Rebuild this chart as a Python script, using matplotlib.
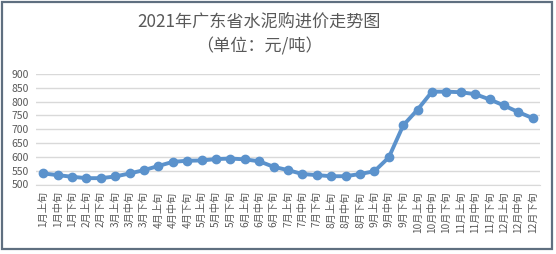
import matplotlib
matplotlib.use("Agg")
import matplotlib.pyplot as plt
from matplotlib.patches import Rectangle

plt.rcParams['font.family'] = ['Noto Sans CJK SC', 'DejaVu Sans']

title = "2021年广东省水泥购进价走势图"
subtitle = "（单位：元/吨）"

periods = ["1月上旬", "1月中旬", "1月下旬", "2月上旬", "2月下旬",
           "3月上旬", "3月中旬", "3月下旬", "4月上旬", "4月中旬", "4月下旬",
           "5月上旬", "5月中旬", "5月下旬", "6月上旬", "6月中旬", "6月下旬",
           "7月上旬", "7月中旬", "7月下旬", "8月上旬", "8月中旬", "8月下旬",
           "9月上旬", "9月中旬", "9月下旬", "10月上旬", "10月中旬", "10月下旬",
           "11月上旬", "11月中旬", "11月下旬", "12月上旬", "12月中旬", "12月下旬"]

prices = [540, 534, 528, 523, 523, 529, 540, 552, 567, 582, 586, 587,
          592, 594, 591, 584, 564, 552, 538, 534, 530, 530, 538, 548,
          598, 714, 771, 836, 836, 834, 827, 808, 786, 762, 740]

yticks = [500, 550, 600, 650, 700, 750, 800, 850, 900]

W, H = 556, 254
fig = plt.figure(figsize=(W / 100, H / 100), dpi=100)
fig.patch.set_facecolor("white")

# outer frame
fig.patches.append(Rectangle((1.5 / W, 1 - 248.5 / H), (552 - 1.5) / W, (248.5 - 1.5) / H,
                             transform=fig.transFigure, fill=False,
                             edgecolor="#5f6f80", linewidth=1.6))

left, right = 36 / W, 540 / W
bottom, top = 1 - 184.5 / H, 1 - 74 / H
ax = fig.add_axes([left, bottom, right - left, top - bottom])

x = list(range(len(periods)))
ax.plot(x, prices, color="#5B92CC", linewidth=2.8, marker="o",
        markersize=6, markerfacecolor="#5B92CC", markeredgecolor="#5B92CC",
        zorder=3, clip_on=False)

ax.set_xlim(-0.5, len(periods) - 0.5)
ax.set_ylim(500, 900)
ax.set_yticks(yticks)
ax.set_yticklabels([str(v) for v in yticks])
ax.yaxis.grid(True, color="#d9d9d9", linewidth=1.0)
ax.set_axisbelow(True)
for s in ["top", "right", "left"]:
    ax.spines[s].set_visible(False)
ax.spines["bottom"].set_color("#d9d9d9")
ax.tick_params(axis="y", length=0, labelsize=7.5, colors="#595959", pad=5)
ax.tick_params(axis="x", length=0, labelsize=7.3, colors="#595959", pad=5)
ax.set_xticks(x)
ax.set_xticklabels(periods, rotation=90, va="top", ha="center")

fig.text(259 / W, 1 - 22 / H, title, ha="center", va="center",
         fontsize=12.3, color="#595959")
fig.text(259 / W, 1 - 46 / H, subtitle, ha="center", va="center",
         fontsize=12.3, color="#595959")

fig.savefig("out.png", dpi=100)
